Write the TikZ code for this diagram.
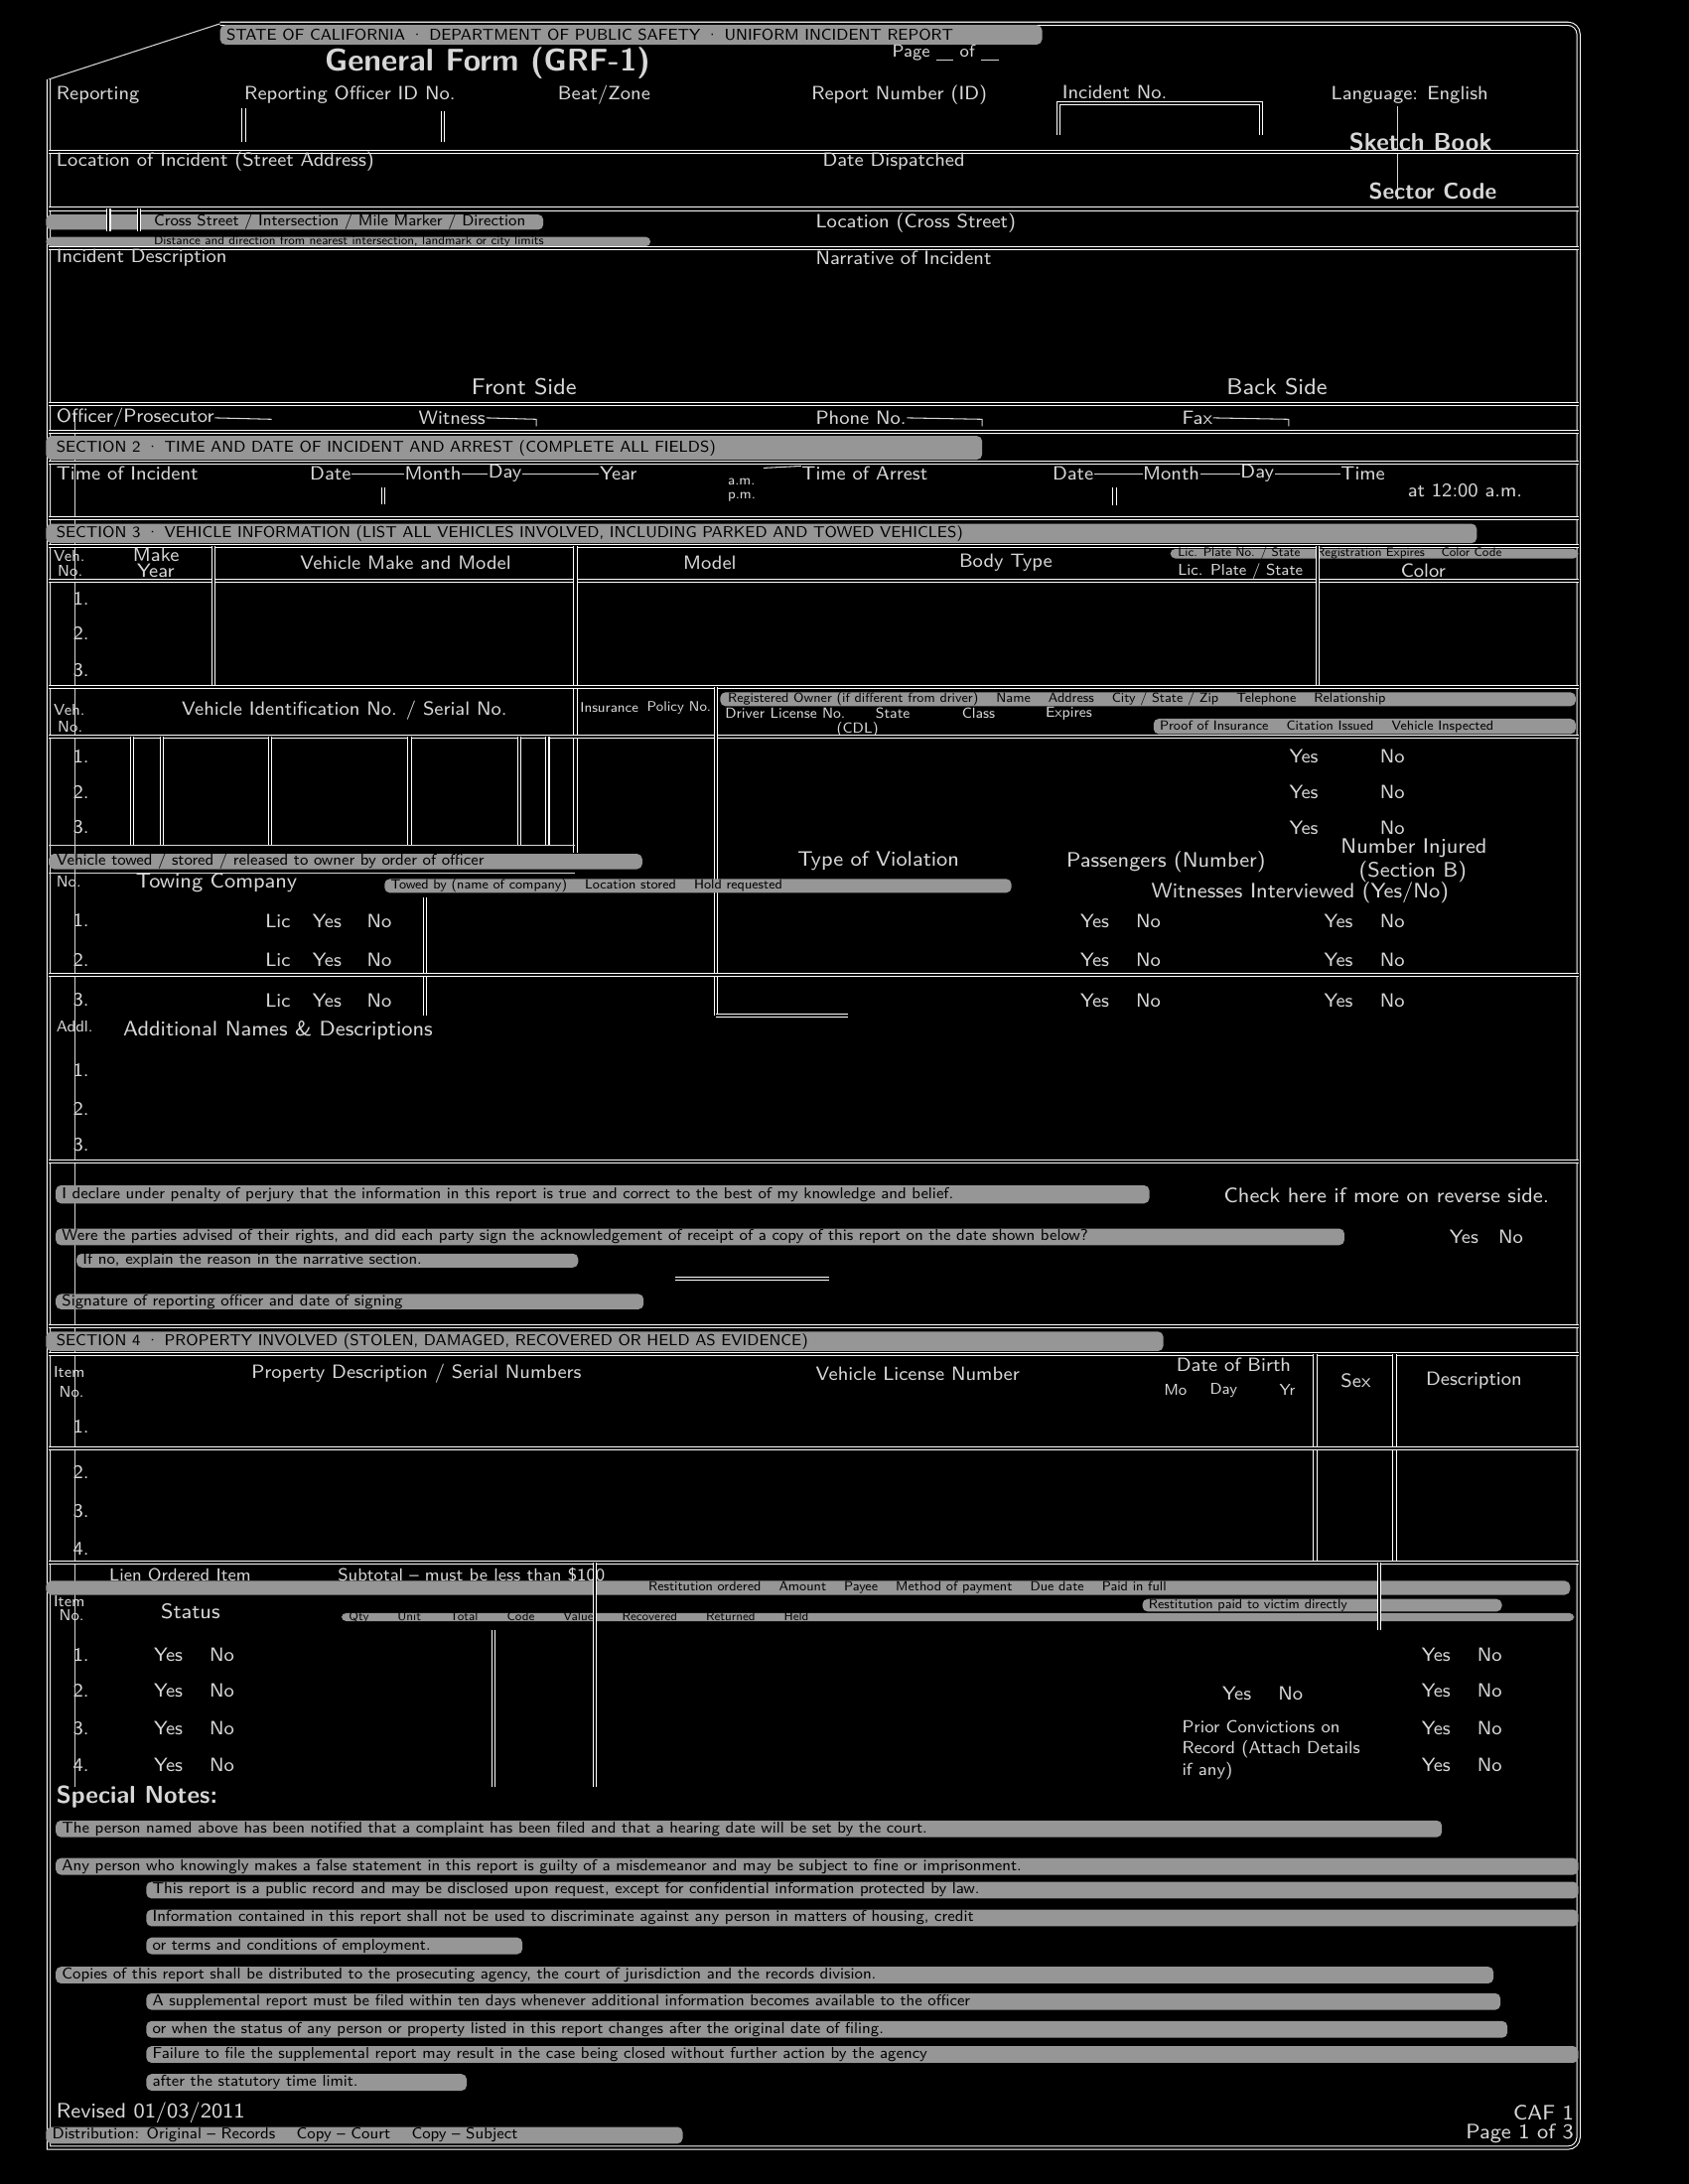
\documentclass[tikz,border=0pt]{standalone}
\usepackage{tikz}
\usepackage{xcolor}
\usepackage{amsmath}
\renewcommand{\familydefault}{\sfdefault}
\definecolor{formgray}{RGB}{215,215,215}
\definecolor{bargray}{RGB}{150,150,150}
\tikzstyle{rule} = [draw=white, double=black, double distance=0.6pt, line width=0.3pt]
\tikzstyle{hair} = [draw=formgray, line width=0.3pt]
\tikzstyle{lbl} = [anchor=west, inner sep=0pt, text=formgray, font=\fontsize{5.5}{6}\selectfont]
\tikzstyle{big} = [lbl, font=\fontsize{7}{8}\selectfont\bfseries]
\tikzstyle{band} = [fill=bargray, rounded corners=1.5pt]
\tikzstyle{bandtext} = [anchor=west, inner sep=0pt, text=black, font=\fontsize{4.5}{5}\selectfont]
\usetikzlibrary{positioning}

\begin{document}
\begin{tikzpicture}[x=0.014026cm, y=-0.014026cm]
  % Page
  \fill[black] (0,0) rectangle (1212,1568);
  \useasboundingbox (0,0) rectangle (1212,1568);

  % Draw Frame
  \draw[hair] (35,57) -- (158,17);
  \draw[rule] (158,17) {[rounded corners=3] -- (1133,17) -- (1133,1542)} -- (35,1542) -- (35,57);
  \draw[hair] (54,296) -- (54,1283);

  % Header
  \path[band] (158,18) rectangle (748,32);
  \node[bandtext] (agency) at (162,25) {STATE OF CALIFORNIA \textperiodcentered{} DEPARTMENT OF PUBLIC SAFETY \textperiodcentered{} UNIFORM INCIDENT REPORT};
  \node[lbl, font=\fontsize{5}{6}\selectfont] (pageof) at (640,38) {Page \underline{\hspace{1em}} of \underline{\hspace{1em}}};
  \node[big, anchor=center, font=\fontsize{9}{10}\selectfont\bfseries] (title) at (350,45) {General Form (GRF-1)};

  % Row 1
  \node[lbl] (rpt) at (40,68) {Reporting};
  \node[lbl] (offid) at (175,68) {Reporting Officer ID No.};
  \node[lbl] (beat) at (400,68) {Beat/Zone};
  \node[lbl] (rptno) at (582,68) {Report Number (ID)};
  \node[lbl] (incno) at (762,66) {Incident No.};
  \node[lbl] (lang) at (955,68) {Language: English};
  \draw[rule] (175,78) -- (175,102);
  \draw[rule] (318,80) -- (318,102);
  \draw[rule] (760,97) -- (760,74) -- (905,74) -- (905,97);
  \node[big] (sketch) at (968,102) {Sketch Book};
  \node[big, font=\fontsize{6.5}{7}\selectfont\bfseries] (sector) at (982,137) {Sector Code};
  \draw[hair] (1003,76) -- (1003,143);

  % Row 2
  \draw[rule] (35,109) -- (1133,109);
  \node[lbl] (locinc) at (40,116) {Location of Incident (Street Address)};
  \node[lbl] (datedisp) at (590,116) {Date Dispatched};
  \draw[rule] (35,150) -- (1133,150);

  % Row 3
  \path[band] (33,154) rectangle (390,165);
  \node[bandtext] (cross) at (110,159.5) {Cross Street / Intersection / Mile Marker / Direction};
  \path[band] (33,170) rectangle (467,177);
  \node[bandtext, font=\fontsize{3.5}{4}\selectfont] (dist) at (110,173.5) {Distance and direction from nearest intersection, landmark or city limits};
  \draw[rule] (78,150) -- (78,166);
  \draw[rule] (100,150) -- (100,166);
  \node[lbl] (loccross) at (585,160) {Location (Cross Street)};
  \draw[rule] (35,178) -- (1133,178);

  % Row 4
  \node[lbl] (incdesc) at (40,185) {Incident Description};
  \node[lbl] (narr) at (585,185) {Narrative of Incident};
  \node[lbl, font=\fontsize{6.5}{7}\selectfont] (front) at (338,278) {Front Side};
  \node[lbl, font=\fontsize{6.5}{7}\selectfont] (back) at (880,278) {Back Side};
  \draw[rule] (35,290) -- (1133,290);

  % Row 5
  \node[lbl] (officer) at (40,300) {Officer/Prosecutor};
  \draw[hair] (officer.east) -- (195,301);
  \node[lbl] (witness) at (300,300) {Witness};
  \draw[hair] (witness.east) -- (385,301) -- (385,306);
  \node[lbl] (phone) at (585,300) {Phone No.};
  \draw[hair] (phone.east) -- (705,301) -- (705,306);
  \node[lbl] (fax) at (848,300) {Fax};
  \draw[hair] (fax.east) -- (925,301) -- (925,306);
  \draw[rule] (35,310) -- (1133,310);
  \path[band] (33,313) rectangle (705,330);
  \node[bandtext] (sect2) at (40,321.5) {SECTION 2 \textperiodcentered{} TIME AND DATE OF INCIDENT AND ARREST (COMPLETE ALL FIELDS)};
  \draw[rule] (35,332) -- (1133,332);

  % Row 6
  \node[lbl] (tinc) at (40,340) {Time of Incident};
  \node[lbl] (d1) at (222,340) {Date};
  \node[lbl] (m1) at (290,340) {Month};
  \node[lbl] (y1) at (350,340) {Day};
  \node[lbl] (yr1) at (430,340) {Year};
  \draw[hair] (d1.east) -- (m1.west) (m1.east) -- (y1.west) (y1.east) -- (yr1.west);
  \node[lbl, font=\fontsize{4}{5}\selectfont] (am) at (522,346) {a.m.};
  \node[lbl, font=\fontsize{4}{5}\selectfont] (pm) at (522,357) {p.m.};
  \node[lbl] (tarr) at (575,340) {Time of Arrest};
  \draw[hair] (548,336) -- (tarr.north west);
  \node[lbl] (d2) at (755,340) {Date};
  \node[lbl] (m2) at (820,340) {Month};
  \node[lbl] (y2) at (890,340) {Day};
  \node[lbl] (t2) at (962,340) {Time};
  \draw[hair] (d2.east) -- (m2.west) (m2.east) -- (y2.west) (y2.east) -- (t2.west);
  \node[lbl] (noon) at (1010,352) {at 12:00 a.m.};
  \draw[rule] (275,350) -- (275,362);
  \draw[rule] (800,350) -- (800,363);
  \draw[rule] (35,372) -- (1133,372);
  \path[band] (33,376) rectangle (1060,390);
  \node[bandtext] (sect3) at (40,383) {SECTION 3 \textperiodcentered{} VEHICLE INFORMATION (LIST ALL VEHICLES INVOLVED, INCLUDING PARKED AND TOWED VEHICLES)};
  \draw[rule] (35,392) -- (1133,392);

  % Vehicle table
  \node[lbl, font=\fontsize{4.5}{5}\selectfont] (vno1) at (38,399) {Veh.};
  \node[lbl, font=\fontsize{4.5}{5}\selectfont] (vno1b) at (41,410) {No.};
  \node[lbl] (make) at (95,398) {Make};
  \node[lbl] (year) at (98,410) {Year};
  \node[lbl] (makemodel) at (215,404) {Vehicle Make and Model};
  \node[lbl] (model) at (490,404) {Model};
  \node[lbl] (body) at (688,404) {Body Type};
  \path[band] (840,394) rectangle (1133,401);
  \node[bandtext, font=\fontsize{3.5}{4}\selectfont] (plate) at (845,397.5) {Lic. Plate No. / State \quad Registration Expires \quad Color Code};
  \node[lbl, font=\fontsize{4.5}{5}\selectfont] (platest) at (845,410) {Lic. Plate / State};
  \node[lbl] (color) at (1005,410) {Color};
  \draw[rule] (35,417) -- (1133,417);
  \draw[rule] (153,392) -- (153,493);
  \draw[rule] (413,392) -- (413,612);
  \draw[rule] (946,392) -- (946,493);
  \foreach \n/\y in {1/430,2/455,3/481}
    \node[lbl] (vrow\n) at (52,\y) {\n.};
  \draw[rule] (35,493) -- (1133,493);

  % VIN table
  \node[lbl, font=\fontsize{4.5}{5}\selectfont] (vno2) at (38,510) {Veh.};
  \node[lbl, font=\fontsize{4.5}{5}\selectfont] (vno2b) at (41,522) {No.};
  \node[lbl] (vin) at (130,510) {Vehicle Identification No. / Serial No.};
  \node[lbl, font=\fontsize{4}{5}\selectfont] (ins) at (416,508) {Insurance};
  \node[lbl, font=\fontsize{4}{5}\selectfont] (policy) at (464,508) {Policy No.};
  \path[band] (517,497) rectangle (1131,507);
  \node[bandtext, font=\fontsize{3.8}{4}\selectfont] (owner) at (522,502) {Registered Owner (if different from driver) \quad Name \quad Address \quad City / State / Zip \quad Telephone \quad Relationship};
  \node[lbl, font=\fontsize{4.2}{5}\selectfont] (dl) at (520,512) {Driver License No.};
  \node[lbl, font=\fontsize{4.2}{5}\selectfont] (dlst) at (628,512) {State};
  \node[lbl, font=\fontsize{4.2}{5}\selectfont] (dlcl) at (690,512) {Class};
  \node[lbl, font=\fontsize{4.2}{5}\selectfont] (dlexp) at (750,512) {Expires};
  \node[lbl, font=\fontsize{4.2}{5}\selectfont] (cdl) at (600,524) {(CDL)};
  \path[band] (828,516) rectangle (1131,527);
  \node[bandtext, font=\fontsize{3.8}{4}\selectfont] (proof) at (832,521.5) {Proof of Insurance \quad Citation Issued \quad Vehicle Inspected};
  \draw[rule] (35,529) -- (1133,529);
  \foreach \x in {95,116,194,294,373,393}
    \draw[rule] (\x,529) -- (\x,607);
  \draw[rule] (514,493) -- (514,729);
  \foreach \n/\y in {1/543,2/569,3/594} {
    \node[lbl] (irow\n) at (52,\y) {\n.};
    \node[lbl] (iyes\n) at (925,\y) {Yes};
    \node[lbl] (ino\n) at (990,\y) {No};
  }
  \draw[hair] (35,607) -- (413,607);
  \path[band] (35,613) rectangle (461,624);
  \node[bandtext] (tow) at (40,618.5) {Vehicle towed / stored / released to owner by order of officer};
  \draw[hair] (35,627) -- (413,627);
  \path[band] (276,631) rectangle (726,641);
  \node[bandtext, font=\fontsize{3.8}{4}\selectfont] (towby) at (280,636) {Towed by (name of company) \quad Location stored \quad Hold requested};
  \node[lbl, font=\fontsize{6}{7}\selectfont] (viol) at (572,618) {Type of Violation};
  \node[lbl, font=\fontsize{6}{7}\selectfont] (pass) at (765,619) {Passengers (Number)};
  \node[lbl, font=\fontsize{6}{7}\selectfont] (inj) at (962,609) {Number Injured};
  \node[lbl, font=\fontsize{6}{7}\selectfont] (injb) at (975,626) {(Section B)};
  \node[lbl, font=\fontsize{6}{7}\selectfont] (wit) at (826,641) {Witnesses Interviewed (Yes/No)};

  % Towing
  \node[lbl, font=\fontsize{4.5}{5}\selectfont] (towno) at (40,633) {No.};
  \node[lbl, font=\fontsize{6}{7}\selectfont] (towco) at (97,634) {Towing Company};
  \foreach \n/\y in {1/661,2/689,3/718} {
    \node[lbl] (trow\n) at (52,\y) {\n.};
    \node[lbl] (tlic\n) at (190,\y) {Lic};
    \node[lbl] (tyes\n) at (224,\y) {Yes};
    \node[lbl] (tno\n) at (263,\y) {No};
    \node[lbl] (pyes\n) at (775,\y) {Yes};
    \node[lbl] (pno\n) at (815,\y) {No};
    \node[lbl] (wyes\n) at (950,\y) {Yes};
    \node[lbl] (wno\n) at (990,\y) {No};
  }
  \draw[rule] (305,644) -- (305,729);
  \draw[rule] (35,700) -- (1133,700);
  \draw[rule] (514,729) -- (609,729);

  % Additional names
  \node[lbl, font=\fontsize{4.5}{5}\selectfont] (addl) at (40,737) {Addl.};
  \node[lbl, font=\fontsize{6}{7}\selectfont] (names) at (88,740) {Additional Names \& Descriptions};
  \foreach \n/\y in {1/768,2/796,3/822}
    \node[lbl] (arow\n) at (52,\y) {\n.};
  \draw[rule] (35,834) -- (1133,834);

  % Declarations
  \path[band] (40,851) rectangle (825,864);
  \node[bandtext] (decl1) at (44,857.5) {I declare under penalty of perjury that the information in this report is true and correct to the best of my knowledge and belief.};
  \node[lbl, font=\fontsize{6}{7}\selectfont] (reverse) at (878,858) {Check here if more on reverse side.};
  \path[band] (40,882) rectangle (965,894);
  \node[bandtext] (decl2) at (44,888) {Were the parties advised of their rights, and did each party sign the acknowledgement of receipt of a copy of this report on the date shown below?};
  \node[lbl] (dyes) at (1040,888) {Yes};
  \node[lbl] (dno) at (1075,888) {No};
  \path[band] (55,900) rectangle (415,910);
  \node[bandtext] (decl3) at (59,905) {If no, explain the reason in the narrative section.};
  \draw[rule] (485,918) -- (595,918);
  \path[band] (40,929) rectangle (462,940);
  \node[bandtext] (decl4) at (44,934.5) {Signature of reporting officer and date of signing};
  \draw[rule] (35,952) -- (1133,952);
  \path[band] (33,956) rectangle (835,970);
  \node[bandtext] (sect4) at (40,963) {SECTION 4 \textperiodcentered{} PROPERTY INVOLVED (STOLEN, DAMAGED, RECOVERED OR HELD AS EVIDENCE)};
  \draw[rule] (35,972) -- (1133,972);

  % Property table
  \node[lbl, font=\fontsize{4.5}{5}\selectfont] (item) at (38,985) {Item};
  \node[lbl, font=\fontsize{4.5}{5}\selectfont] (itemb) at (42,999) {No.};
  \node[lbl] (prop) at (180,986) {Property Description / Serial Numbers};
  \node[lbl] (vlic) at (585,986) {Vehicle License Number};
  \node[lbl] (dob) at (844,980) {Date of Birth};
  \node[lbl, font=\fontsize{4.5}{5}\selectfont] (dobm) at (835,998) {Mo};
  \node[lbl, font=\fontsize{4.5}{5}\selectfont] (dobd) at (868,998) {Day};
  \node[lbl, font=\fontsize{4.5}{5}\selectfont] (doby) at (918,998) {Yr};
  \node[lbl] (sex) at (962,991) {Sex};
  \node[lbl] (descr) at (1023,991) {Description};
  \draw[rule] (944,972) -- (944,1122);
  \draw[rule] (1001,972) -- (1001,1122);
  \foreach \n/\y in {1/1024,2/1057,3/1085,4/1112}
    \node[lbl] (prow\n) at (52,\y) {\n.};
  \draw[rule] (35,1040) -- (1133,1040);
  \draw[rule] (35,1122) -- (1133,1122);

  % Restitution table
  \path[band] (33,1135) rectangle (1127,1145);
  \node[bandtext, font=\fontsize{3.8}{4}\selectfont] (rest) at (465,1140) {Restitution ordered \quad Amount \quad Payee \quad Method of payment \quad Due date \quad Paid in full};
  \node[lbl, font=\fontsize{4.5}{5}\selectfont] (ritem) at (38,1150) {Item};
  \node[lbl, font=\fontsize{4.5}{5}\selectfont] (ritemb) at (42,1160) {No.};
  \node[lbl, font=\fontsize{5}{6}\selectfont] (lien) at (78,1131) {Lien Ordered Item};
  \node[lbl, font=\fontsize{5}{6}\selectfont] (subt) at (242,1131) {Subtotal -- must be less than \$100};
  \node[lbl, font=\fontsize{6}{7}\selectfont] (status) at (115,1157) {Status};
  \path[band] (820,1148) rectangle (1078,1157);
  \node[bandtext, font=\fontsize{3.8}{4}\selectfont] (restb) at (824,1152.5) {Restitution paid to victim directly};
  \path[band] (245,1158) rectangle (1130,1164);
  \node[bandtext, font=\fontsize{3.5}{4}\selectfont] (restc) at (250,1161) {Qty \qquad Unit \qquad Total \qquad Code \qquad Value \qquad Recovered \qquad Returned \qquad Held};
  \draw[rule] (354,1170) -- (354,1283);
  \draw[rule] (427,1122) -- (427,1283);
  \draw[rule] (990,1122) -- (990,1170);
  \foreach \n/\y in {1/1188,2/1214,3/1241,4/1267} {
    \node[lbl] (rrow\n) at (52,\y) {\n.};
    \node[lbl] (ryes\n) at (110,\y) {Yes};
    \node[lbl] (rno\n) at (150,\y) {No};
    \node[lbl] (syes\n) at (1020,\y) {Yes};
    \node[lbl] (sno\n) at (1060,\y) {No};
  }
  \node[lbl] (myes) at (877,1216) {Yes};
  \node[lbl] (mno) at (917,1216) {No};
  \node[lbl, font=\fontsize{5}{6}\selectfont, align=left, anchor=north west] (prior) at (848,1235)
    {Prior Convictions on\\Record (Attach Details\\if any)};

  % Special notes
  \node[big] (special) at (40,1290) {Special Notes:};
  \foreach \xa/\xb/\ya/\t [count=\i] in {
      40/1035/1307/{The person named above has been notified that a complaint has been filed and that a hearing date will be set by the court.},
      40/1133/1334/{Any person who knowingly makes a false statement in this report is guilty of a misdemeanor and may be subject to fine or imprisonment.},
      105/1133/1351/{This report is a public record and may be disclosed upon request, except for confidential information protected by law.},
      105/1133/1371/{Information contained in this report shall not be used to discriminate against any person in matters of housing, credit},
      105/375/1391/{or terms and conditions of employment.},
      40/1072/1412/{Copies of this report shall be distributed to the prosecuting agency, the court of jurisdiction and the records division.},
      105/1077/1431/{A supplemental report must be filed within ten days whenever additional information becomes available to the officer},
      105/1082/1451/{or when the status of any person or property listed in this report changes after the original date of filing.},
      105/1133/1469/{Failure to file the supplemental report may result in the case being closed without further action by the agency},
      105/335/1489/{after the statutory time limit.}} {
    \path[band] (\xa,\ya) rectangle (\xb,\ya+12);
    \node[bandtext] (note\i) at (\xa+4,\ya+6) {\t};
  }

  % Footer
  \node[lbl, font=\fontsize{6}{7}\selectfont] (rev) at (40,1517) {Revised 01/03/2011};
  \node[lbl, font=\fontsize{6}{7}\selectfont, anchor=east] (formid) at (1130,1517) {CAF 1};
  \path[band] (33,1527) rectangle (490,1539);
  \node[bandtext] (footer) at (37,1533) {Distribution: Original -- Records \quad Copy -- Court \quad Copy -- Subject};
  \node[lbl, font=\fontsize{6}{7}\selectfont, anchor=east] (page) at (1130,1532) {Page 1 of 3};
\end{tikzpicture}
\end{document}
